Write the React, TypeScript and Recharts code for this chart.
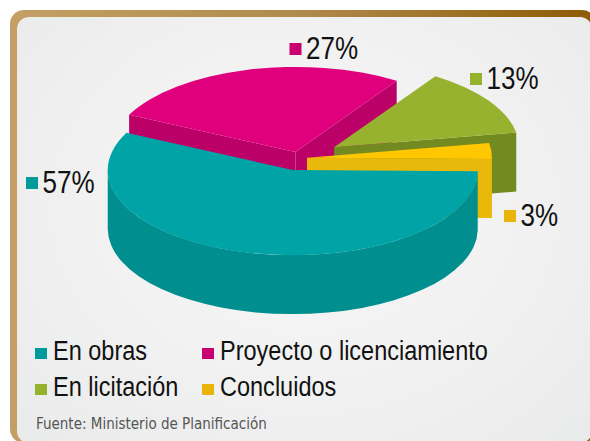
import React from 'react';
import { PieChart, Pie, Legend } from 'recharts';

// ---------- data ----------
const categories = ['En obras', 'Proyecto o licenciamiento', 'En licitación', 'Concluidos'];
const shares = [57, 27, 13, 3];
const shareLabels = ['57%', '27%', '13%', '3%'];
const sourceNote = 'Fuente: Ministerio de Planificación';

// ---------- styles / layout ----------
const topColors = ['#00a4a6', '#e0007e', '#96b22e', '#ffc700'];
const sideColors = ['#008e8e', '#bb0068', '#728a20', '#e8b90a'];
const keyColors = ['#009a9a', '#c9006f', '#95b22f', '#e9b50a'];
const drawOrder = [1, 2, 3, 0]; // back to front painting
const explode = [27, 13.5, 42, 8];
const labelOffsets: [number, number][] = [
  [-273, 35],
  [-9.5, -99],
  [171, -69],
  [205, 68],
];

const CX = 299;
const CY = 158;
const R = 185;
const TILT = 0.46;
const DEPTH = 59;
const SANS = "'Liberation Sans', Arial, sans-serif";
const SQUEEZE = 0.84;

const pieData = drawOrder.map((i) => ({ name: categories[i], value: shares[i], idx: i }));

const rad = (d: number) => (d * Math.PI) / 180;
const pt = (cx: number, cy: number, r: number, a: number): [number, number] => [
  cx + r * Math.cos(rad(a)),
  cy - r * Math.sin(rad(a)) * TILT,
];

function geom(props: any) {
  const idx: number = props.payload?.idx ?? props.idx ?? 0;
  const a1 = Math.min(props.startAngle, props.endAngle);
  const a2 = Math.max(props.startAngle, props.endAngle);
  const m = (a1 + a2) / 2;
  const e = explode[idx];
  const vx = props.cx + e * Math.cos(rad(m));
  const vy = props.cy - e * Math.sin(rad(m)) * TILT;
  return { idx, a1, a2, vx, vy, r: props.outerRadius as number };
}

const f = (n: number) => n.toFixed(2);

function SideShape(props: any) {
  const { idx, a1, a2, vx, vy, r } = geom(props);
  const ry = r * TILT;
  const parts: React.ReactNode[] = [];
  const face = (a: number, key: string) => {
    const [px, py] = pt(vx, vy, r, a);
    parts.push(
      <path
        key={key}
        d={`M${f(vx)},${f(vy)} L${f(px)},${f(py)} L${f(px)},${f(py + DEPTH)} L${f(vx)},${f(vy + DEPTH)} Z`}
        fill={sideColors[idx]}
      />
    );
  };
  if (Math.cos(rad(a1)) > 0) face(a1, 's');
  if (Math.cos(rad(a2)) < 0) face(a2, 'e');
  for (let k = -2; k <= 2; k++) {
    const lo = Math.max(a1, 180 + 360 * k);
    const hi = Math.min(a2, 360 + 360 * k);
    if (hi > lo) {
      const [x1, y1] = pt(vx, vy, r, lo);
      const [x2, y2] = pt(vx, vy, r, hi);
      parts.push(
        <path
          key={'w' + k}
          d={`M${f(x1)},${f(y1)} A${f(r)},${f(ry)} 0 0 0 ${f(x2)},${f(y2)} L${f(x2)},${f(y2 + DEPTH)} A${f(r)},${f(ry)} 0 0 1 ${f(x1)},${f(y1 + DEPTH)} Z`}
          fill={sideColors[idx]}
        />
      );
    }
  }
  return <g>{parts}</g>;
}

function TopShape(props: any) {
  const { idx, a1, a2, vx, vy, r } = geom(props);
  const ry = r * TILT;
  const [x1, y1] = pt(vx, vy, r, a1);
  const [x2, y2] = pt(vx, vy, r, a2);
  const large = a2 - a1 > 180 ? 1 : 0;
  return (
    <path
      d={`M${f(vx)},${f(vy)} L${f(x1)},${f(y1)} A${f(r)},${f(ry)} 0 ${large} 0 ${f(x2)},${f(y2)} Z`}
      fill={topColors[idx]}
    />
  );
}

function NarrowText({ x, y, size, fill, children }: { x: number; y: number; size: number; fill: string; children: React.ReactNode }) {
  return (
    <text transform={`translate(${x},${y}) scale(${SQUEEZE},1)`} x={0} y={0} fontFamily={SANS} fontSize={size} fill={fill}>
      {children}
    </text>
  );
}

function renderLabel(props: any) {
  const idx: number = props.payload?.idx ?? props.idx ?? 0;
  const cx = typeof props.cx === 'number' ? props.cx : CX;
  const cy = typeof props.cy === 'number' ? props.cy : CY;
  const [dx, dy] = labelOffsets[idx];
  const x = cx + dx;
  const base = cy + dy;
  return (
    <g key={'lbl' + idx}>
      <rect x={x} y={base - 16} width={12} height={12} fill={keyColors[idx]} />
      <NarrowText x={x + 16.5} y={base} size={31} fill="#111">
        {shareLabels[idx]}
      </NarrowText>
    </g>
  );
}

function renderLegend() {
  return (
    <svg width={590} height={111} style={{ display: 'block' }}>
      {categories.map((c, i) => {
        const col = i % 2;
        const row = Math.floor(i / 2);
        const x = col === 0 ? 35 : 202;
        const base = row === 0 ? 30 : 66;
        return (
          <g key={c}>
            <rect x={x} y={base - 12} width={12} height={11} fill={keyColors[i]} />
            <NarrowText x={x + 18} y={base} size={28} fill="#111">
              {c}
            </NarrowText>
          </g>
        );
      })}
      <text x={36} y={99} fontFamily="'DejaVu Sans Condensed', sans-serif" fontSize={15} fill="#555">
        {sourceNote}
      </text>
    </svg>
  );
}

export default function App() {
  return (
    <div style={{ position: 'absolute', left: 0, top: 0, width: 590, height: 441, overflow: 'hidden', background: '#fff' }}>
      <div
        style={{
          position: 'absolute',
          left: 10,
          top: 10,
          width: 586,
          height: 433,
          borderRadius: 14,
          background: 'linear-gradient(to right, #c4a066 0%, #b08a4c 50%, #8e5b04 100%)',
        }}
      />
      <div
        style={{
          position: 'absolute',
          left: 17,
          top: 17,
          width: 575,
          height: 426,
          borderRadius: 12,
          background: 'radial-gradient(ellipse at 50% 45%, #f7f7f7 0%, #f1f1f1 55%, #e9eaea 100%)',
        }}
      />
      <div style={{ position: 'absolute', left: 0, top: 0 }}>
        <PieChart width={590} height={441} margin={{ top: 0, right: 0, bottom: 0, left: 0 }}>
          <Pie
            data={pieData}
            dataKey="value"
            nameKey="name"
            cx={CX}
            cy={CY}
            innerRadius={0}
            outerRadius={R}
            startAngle={154}
            endAngle={-206}
            stroke="none"
            isAnimationActive={false}
            shape={SideShape}
            inactiveShape={SideShape}
            activeShape={SideShape}
          />
          <Pie
            data={pieData}
            dataKey="value"
            nameKey="name"
            cx={CX}
            cy={CY}
            innerRadius={0}
            outerRadius={R}
            startAngle={154}
            endAngle={-206}
            stroke="none"
            isAnimationActive={false}
            shape={TopShape}
            inactiveShape={TopShape}
            activeShape={TopShape}
            label={renderLabel}
            labelLine={false}
          />
          <Legend
            content={renderLegend}
            wrapperStyle={{ position: 'absolute', left: 0, top: 330, width: 590, height: 111, bottom: 'auto' }}
          />
        </PieChart>
      </div>
    </div>
  );
}
